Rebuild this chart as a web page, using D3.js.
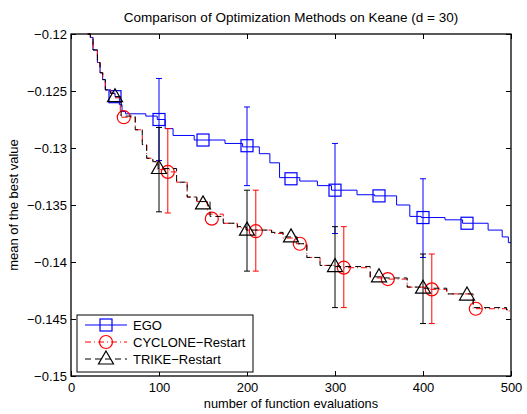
<!DOCTYPE html>
<html>
<head>
<meta charset="utf-8">
<script src="https://cdn.jsdelivr.net/npm/d3@7"></script>
<style>
    html, body { margin: 0; padding: 0; background: #fff; }
    svg { display: block; }
</style>
</head>
<body>
<svg id="chart" width="527" height="414"></svg>
<script>
(function () {
'use strict';

// best-so-far curves, [evaluations, value] pairs (step after)
var egoCurve = [
    [19, -0.1200], [22, -0.1203], [25, -0.1214], [30, -0.1225], [33, -0.1234],
    [36, -0.1240], [39, -0.1249], [45, -0.1252], [50, -0.1255], [55, -0.1262],
    [58, -0.1268], [62, -0.1270], [85, -0.1272], [98, -0.1275], [107, -0.1283],
    [116, -0.1289], [140, -0.1293], [175, -0.1296], [195, -0.1299], [214, -0.1305],
    [226, -0.1313], [237, -0.1326], [260, -0.1329], [280, -0.1333], [296, -0.1337],
    [325, -0.1341], [345, -0.1342], [370, -0.1350], [385, -0.1360], [398, -0.1361],
    [425, -0.1363], [445, -0.1366], [474, -0.1372], [490, -0.1378], [497, -0.1383],
    [500, -0.1383]
];
var cycloneCurve = [
    [19, -0.1200], [22, -0.1203], [25, -0.1214], [30, -0.1225], [33, -0.1234],
    [36, -0.1240], [39, -0.1249], [45, -0.1252], [50, -0.1256], [56, -0.1273],
    [73, -0.1284], [81, -0.1297], [86, -0.1309], [93, -0.1312], [98, -0.1319],
    [112, -0.1321], [120, -0.1330], [132, -0.1343], [143, -0.1347], [155, -0.1358],
    [173, -0.1366], [189, -0.1370], [200, -0.1372], [228, -0.1375], [241, -0.1379],
    [256, -0.1384], [268, -0.1396], [283, -0.1403], [305, -0.1405], [340, -0.1414],
    [356, -0.1415], [382, -0.1422], [405, -0.1424], [427, -0.1428], [457, -0.1441],
    [495, -0.1443], [500, -0.1443]
];
var trikeCurve = [
    [19, -0.1200], [22, -0.1203], [25, -0.1214], [30, -0.1225], [33, -0.1234],
    [36, -0.1240], [39, -0.1249], [45, -0.1252], [50, -0.1255], [57, -0.1272],
    [73, -0.1284], [81, -0.1297], [86, -0.1309], [93, -0.1312], [99, -0.1318],
    [120, -0.1330], [132, -0.1343], [143, -0.1347], [158, -0.1360], [173, -0.1366],
    [189, -0.1369], [199, -0.1372], [228, -0.1374], [241, -0.1378], [257, -0.1384],
    [268, -0.1396], [283, -0.1403], [298, -0.1404], [340, -0.1413], [355, -0.1414],
    [382, -0.1422], [400, -0.1423], [427, -0.1428], [457, -0.1440], [495, -0.1442],
    [500, -0.1442]
];

// markers every 50 evaluations
var egoMarkerX = [50, 100, 150, 200, 250, 300, 350, 400, 450];
var egoMarkerY = [-0.1255, -0.1275, -0.1293, -0.1298, -0.1327, -0.1337, -0.1342, -0.1361, -0.1366];
var cycloneMarkerX = [60, 110, 160, 210, 260, 310, 360, 410, 460];
var cycloneMarkerY = [-0.1273, -0.1321, -0.1362, -0.1373, -0.1384, -0.1405, -0.1415, -0.1424, -0.1441];
var trikeMarkerX = [50, 100, 150, 200, 250, 300, 350, 400, 450];
var trikeMarkerY = [-0.1255, -0.1318, -0.1349, -0.1372, -0.1378, -0.1404, -0.1413, -0.1423, -0.1429];

// error bars
var egoErrX = [100, 200, 300, 400];
var egoErrLow = [-0.1311, -0.1333, -0.1375, -0.1396];
var egoErrHigh = [-0.1239, -0.1264, -0.1296, -0.1327];
var cycloneErrX = [110, 210, 310, 410];
var cycloneErrLow = [-0.1357, -0.1408, -0.1440, -0.1454];
var cycloneErrHigh = [-0.1283, -0.1337, -0.1369, -0.1393];
var trikeErrX = [100, 200, 300, 400];
var trikeErrLow = [-0.1356, -0.1408, -0.1440, -0.1454];
var trikeErrHigh = [-0.1282, -0.1337, -0.1369, -0.1393];

var xTicks = [0, 100, 200, 300, 400, 500];
var yTicks = [-0.15, -0.145, -0.14, -0.135, -0.13, -0.125, -0.12];
var seriesNames = ['EGO', 'CYCLONE\u2212Restart', 'TRIKE\u2212Restart'];

var LEFT = 71;
var RIGHT = 511;
var TOP = 34;
var BOTTOM = 376;
var TICK = 5;
var FONT = '"Liberation Sans", Arial, Helvetica, sans-serif';
var FONT_SIZE = 13;

var EGO_COLOR = '#0000ff';
var CYCLONE_COLOR = '#ff0000';
var TRIKE_COLOR = '#000000';

var svg = d3.select('#chart');

var x = d3.scaleLinear().domain([0, 500]).range([LEFT, RIGHT]);
var y = d3.scaleLinear().domain([-0.15, -0.12]).range([BOTTOM, TOP]);

var fmt = function(v) {
    return String(v).replace('-', '\u2212');
};

// axes (ticks pointing inwards on all four sides)
var drawAxes = function() {
    svg.append('g')
        .attr('transform', 'translate(0,' + BOTTOM + ')')
        .call(d3.axisBottom(x).tickValues(xTicks).tickSizeInner(-TICK).tickSizeOuter(0).tickPadding(7))
        .call(function(g) {
            g.select('.domain').remove();
            g.selectAll('text').style('font-family', FONT).style('font-size', FONT_SIZE + 'px').attr('fill', '#000');
        });

    svg.append('g')
        .attr('transform', 'translate(0,' + TOP + ')')
        .call(d3.axisTop(x).tickValues(xTicks).tickSizeInner(-TICK).tickSizeOuter(0).tickFormat(''))
        .call(function(g) { g.select('.domain').remove(); });

    svg.append('g')
        .attr('transform', 'translate(' + LEFT + ',0)')
        .call(d3.axisLeft(y).tickValues(yTicks).tickSizeInner(-TICK).tickSizeOuter(0).tickPadding(4).tickFormat(fmt))
        .call(function(g) {
            g.select('.domain').remove();
            g.selectAll('text').style('font-family', FONT).style('font-size', FONT_SIZE + 'px').attr('fill', '#000');
        });

    svg.append('g')
        .attr('transform', 'translate(' + RIGHT + ',0)')
        .call(d3.axisRight(y).tickValues(yTicks).tickSizeInner(-TICK).tickSizeOuter(0).tickFormat(''))
        .call(function(g) { g.select('.domain').remove(); });

    svg.append('rect')
        .attr('x', LEFT)
        .attr('y', TOP)
        .attr('width', RIGHT - LEFT)
        .attr('height', BOTTOM - TOP)
        .attr('fill', 'none')
        .attr('stroke', '#000')
        .attr('stroke-width', 1.3);
};

var line = d3.line()
    .x(function(d) { return x(d[0]); })
    .y(function(d) { return y(d[1]); })
    .curve(d3.curveStepAfter);

var drawErrorBars = function(g, xs, lows, highs, color) {
    xs.forEach(function(xv, i) {
        var px = x(xv);
        g.append('line')
            .attr('x1', px).attr('x2', px)
            .attr('y1', y(lows[i])).attr('y2', y(highs[i]))
            .attr('stroke', color).attr('stroke-width', 1);
        [lows[i], highs[i]].forEach(function(v) {
            g.append('line')
                .attr('x1', px - 3).attr('x2', px + 3)
                .attr('y1', y(v)).attr('y2', y(v))
                .attr('stroke', color).attr('stroke-width', 1);
        });
    });
};

var drawMarker = function(g, shape, cx, cy, color) {
    if (shape === 'square') {
        g.append('rect')
            .attr('x', cx - 6).attr('y', cy - 6)
            .attr('width', 12).attr('height', 12)
            .attr('fill', 'none').attr('stroke', color).attr('stroke-width', 1.2);
    } else if (shape === 'circle') {
        g.append('circle')
            .attr('cx', cx).attr('cy', cy).attr('r', 6.5)
            .attr('fill', 'none').attr('stroke', color).attr('stroke-width', 1.2);
    } else {
        g.append('path')
            .attr('d', 'M' + cx + ',' + (cy - 8) + 'L' + (cx + 7.5) + ',' + (cy + 5) + 'L' + (cx - 7.5) + ',' + (cy + 5) + 'Z')
            .attr('fill', 'none').attr('stroke', color).attr('stroke-width', 1.2);
    }
};

var series = [
    { curve: egoCurve, mx: egoMarkerX, my: egoMarkerY, ex: egoErrX, lo: egoErrLow, hi: egoErrHigh,
      color: EGO_COLOR, dash: null, shape: 'square' },
    { curve: cycloneCurve, mx: cycloneMarkerX, my: cycloneMarkerY, ex: cycloneErrX, lo: cycloneErrLow, hi: cycloneErrHigh,
      color: CYCLONE_COLOR, dash: '6,3,1,3', shape: 'circle' },
    { curve: trikeCurve, mx: trikeMarkerX, my: trikeMarkerY, ex: trikeErrX, lo: trikeErrLow, hi: trikeErrHigh,
      color: TRIKE_COLOR, dash: '6,4', shape: 'triangle' }
];

var drawContent = function() {
    series.forEach(function(s) {
        var g = svg.append('g');
        drawErrorBars(g, s.ex, s.lo, s.hi, s.color);
        g.append('path')
            .attr('d', line(s.curve))
            .attr('fill', 'none')
            .attr('stroke', s.color)
            .attr('stroke-width', 1)
            .attr('stroke-dasharray', s.dash);
        s.mx.forEach(function(xv, i) {
            drawMarker(g, s.shape, x(xv), y(s.my[i]), s.color);
        });
    });
};

var drawLegend = function() {
    var lx = 77, ly = 315, lw = 176, lh = 57;
    var g = svg.append('g');
    g.append('rect')
        .attr('x', lx).attr('y', ly).attr('width', lw).attr('height', lh)
        .attr('fill', '#fff').attr('stroke', '#000').attr('stroke-width', 1);
    series.forEach(function(s, i) {
        var cy = ly + 10 + i * 17;
        g.append('line')
            .attr('x1', lx + 8).attr('x2', lx + 50)
            .attr('y1', cy).attr('y2', cy)
            .attr('stroke', s.color).attr('stroke-width', 1)
            .attr('stroke-dasharray', s.dash);
        drawMarker(g, s.shape, lx + 29, cy, s.color);
        g.append('text')
            .attr('x', lx + 56).attr('y', cy)
            .attr('dy', '0.36em')
            .style('font-family', FONT).style('font-size', FONT_SIZE + 'px')
            .text(seriesNames[i]);
    });
};

var drawLabels = function() {
    svg.append('text')
        .attr('x', (LEFT + RIGHT) / 2).attr('y', 22)
        .attr('text-anchor', 'middle')
        .style('font-family', FONT).style('font-size', '13.5px')
        .text('Comparison of Optimization Methods on Keane (d = 30)');
    svg.append('text')
        .attr('x', (LEFT + RIGHT) / 2).attr('y', 407.5)
        .attr('text-anchor', 'middle')
        .style('font-family', FONT).style('font-size', '12.8px')
        .text('number of function evaluations');
    svg.append('text')
        .attr('transform', 'translate(18,' + ((TOP + BOTTOM) / 2) + ') rotate(-90)')
        .attr('text-anchor', 'middle')
        .style('font-family', FONT).style('font-size', FONT_SIZE + 'px')
        .text('mean of the best value');
};

svg.append('rect').attr('width', 527).attr('height', 414).attr('fill', '#fff');
drawContent();
drawAxes();
drawLegend();
drawLabels();
})();
</script>
</body>
</html>
